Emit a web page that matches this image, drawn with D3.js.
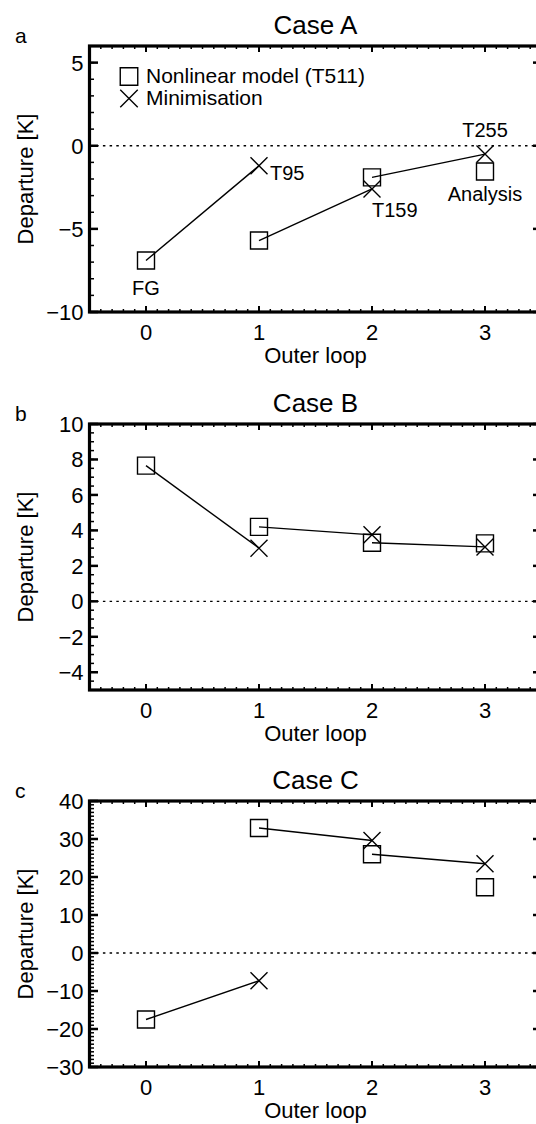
<!DOCTYPE html>
<html><head><meta charset="utf-8">
<script src="https://cdn.jsdelivr.net/npm/d3@7"></script>
<style>
html,body{margin:0;padding:0;background:#fff;}
svg{display:block;}
text{font-family:"Liberation Sans",Arial,Helvetica,sans-serif;fill:#000;}
</style></head>
<body>
<svg id="chart" width="536" height="1124"></svg>
<script>
// ---------- data ----------
const outerLoops = [0, 1, 2, 3];
const panelTitles = ["Case A", "Case B", "Case C"];
const panelLetters = ["a", "b", "c"];
const caseA_nonlinear   = [-6.9, -5.7, -1.9, -1.55];
const caseA_minimisation = [null, -1.2, -2.6, -0.5];
const caseB_nonlinear   = [7.65, 4.2, 3.3, 3.27];
const caseB_minimisation = [null, 3.0, 3.75, 3.07];
const caseC_nonlinear   = [-17.5, 32.9, 26.0, 17.3];
const caseC_minimisation = [null, -7.3, 29.6, 23.5];
const caseA_yTicks = [-10, -5, 0, 5];
const caseB_yTicks = [-4, -2, 0, 2, 4, 6, 8, 10];
const caseC_yTicks = [-30, -20, -10, 0, 10, 20, 30, 40];
const caseA_yDomain = [-10, 6];
const caseB_yDomain = [-5, 10];
const caseC_yDomain = [-30, 40];
const caseA_yMinorStep = 1;
const caseB_yMinorStep = 0.5;
const caseC_yMinorStep = 1;
const legendLabels = ["Nonlinear model (T511)", "Minimisation"];
const caseA_nlNotes = ["FG", null, null, "Analysis"];
const caseA_minNotes = [null, "T95", "T159", "T255"];

// ---------- layout ----------
const svg = d3.select("#chart");
const left = 89.5, right = 541.5, plotH = 266;
const tops = [46, 424, 801];
const fmt = v => (v < 0 ? "\u2212" + Math.abs(v) : String(v));

const panels = [
  {nl: caseA_nonlinear, mn: caseA_minimisation, ticks: caseA_yTicks, dom: caseA_yDomain, minor: caseA_yMinorStep},
  {nl: caseB_nonlinear, mn: caseB_minimisation, ticks: caseB_yTicks, dom: caseB_yDomain, minor: caseB_yMinorStep},
  {nl: caseC_nonlinear, mn: caseC_minimisation, ticks: caseC_yTicks, dom: caseC_yDomain, minor: caseC_yMinorStep}
];

const x = d3.scaleLinear().domain([-0.5, 3.5]).range([left, right]);

function squarePath(cx, cy, s) {
  const h = s / 2;
  return `M${cx - h},${cy - h}h${s}v${s}h${-s}Z`;
}
function crossPath(cx, cy, s) {
  const h = s / 2;
  return `M${cx - h},${cy - h}L${cx + h},${cy + h}M${cx - h},${cy + h}L${cx + h},${cy - h}`;
}

panels.forEach((p, k) => {
  const top = tops[k], bottom = top + plotH;
  const y = d3.scaleLinear().domain(p.dom).range([bottom, top]);
  const g = svg.append("g");

  // title & letter
  g.append("text").attr("x", (left + right) / 2).attr("y", top - 12)
    .attr("text-anchor", "middle").attr("font-size", 26).text(panelTitles[k]);
  g.append("text").attr("x", 15).attr("y", top - 3)
    .attr("font-size", 21).text(panelLetters[k]);

  // zero line
  g.append("line").attr("x1", left).attr("x2", right).attr("y1", y(0)).attr("y2", y(0))
    .attr("stroke", "#000").attr("stroke-width", 1.3).attr("stroke-dasharray", "2.5,4.2");

  // y minor ticks
  const yMinor = d3.range(p.dom[0], p.dom[1] + 1e-9, p.minor);
  yMinor.forEach(v => {
    g.append("line").attr("x1", left).attr("x2", left + 4.5).attr("y1", y(v)).attr("y2", y(v))
      .attr("stroke", "#000").attr("stroke-width", 1.5);
    g.append("line").attr("x1", right).attr("x2", right - 4.5).attr("y1", y(v)).attr("y2", y(v))
      .attr("stroke", "#000").attr("stroke-width", 1.5);
  });
  // y major ticks & labels
  p.ticks.forEach(v => {
    g.append("line").attr("x1", left).attr("x2", left + 8.5).attr("y1", y(v)).attr("y2", y(v))
      .attr("stroke", "#000").attr("stroke-width", 2.5);
    g.append("line").attr("x1", right).attr("x2", right - 8.5).attr("y1", y(v)).attr("y2", y(v))
      .attr("stroke", "#000").attr("stroke-width", 2.5);
    g.append("text").attr("x", left - 6).attr("y", y(v)).attr("dy", "0.36em")
      .attr("text-anchor", "end").attr("font-size", 22).text(fmt(v));
  });

  // x minor ticks
  d3.range(-0.5, 3.5 + 1e-9, 0.1).forEach(v => {
    g.append("line").attr("x1", x(v)).attr("x2", x(v)).attr("y1", bottom).attr("y2", bottom - 3)
      .attr("stroke", "#000").attr("stroke-width", 1.5);
    g.append("line").attr("x1", x(v)).attr("x2", x(v)).attr("y1", top).attr("y2", top + 3)
      .attr("stroke", "#000").attr("stroke-width", 1.5);
  });
  outerLoops.forEach(v => {
    g.append("line").attr("x1", x(v)).attr("x2", x(v)).attr("y1", bottom).attr("y2", bottom - 6)
      .attr("stroke", "#000").attr("stroke-width", 2);
    g.append("line").attr("x1", x(v)).attr("x2", x(v)).attr("y1", top).attr("y2", top + 6)
      .attr("stroke", "#000").attr("stroke-width", 2);
    g.append("text").attr("x", x(v)).attr("y", bottom + 28)
      .attr("text-anchor", "middle").attr("font-size", 22).text(v);
  });

  // frame
  g.append("rect").attr("x", left).attr("y", top).attr("width", right - left).attr("height", plotH)
    .attr("fill", "none").attr("stroke", "#000").attr("stroke-width", 3.2);

  // axis titles
  g.append("text").attr("x", (left + right) / 2).attr("y", bottom + 51)
    .attr("text-anchor", "middle").attr("font-size", 22).text("Outer loop");
  g.append("text").attr("transform", `translate(33,${(top + bottom) / 2}) rotate(-90)`)
    .attr("text-anchor", "middle").attr("font-size", 22).text("Departure [K]");

  // connecting lines: nonlinear at i -> minimisation at i+1
  outerLoops.forEach((v, i) => {
    if (i + 1 < outerLoops.length && p.nl[i] != null && p.mn[i + 1] != null) {
      g.append("line").attr("x1", x(v)).attr("y1", y(p.nl[i]))
        .attr("x2", x(outerLoops[i + 1])).attr("y2", y(p.mn[i + 1]))
        .attr("stroke", "#000").attr("stroke-width", 1.4);
    }
  });
  // markers
  outerLoops.forEach((v, i) => {
    if (p.nl[i] != null)
      g.append("path").attr("d", squarePath(x(v), y(p.nl[i]), 17))
        .attr("fill", "none").attr("stroke", "#000").attr("stroke-width", 1.4);
    if (p.mn[i] != null)
      g.append("path").attr("d", crossPath(x(v), y(p.mn[i]), 17))
        .attr("fill", "none").attr("stroke", "#000").attr("stroke-width", 1.4);
  });

  if (k === 0) {
    // legend
    g.append("path").attr("d", squarePath(129, 76.5, 17.5))
      .attr("fill", "none").attr("stroke", "#000").attr("stroke-width", 1.4);
    g.append("path").attr("d", crossPath(129, 98.5, 17.5))
      .attr("fill", "none").attr("stroke", "#000").attr("stroke-width", 1.4);
    g.append("text").attr("x", 146).attr("y", 83).attr("font-size", 21).text(legendLabels[0]);
    g.append("text").attr("x", 146).attr("y", 105).attr("font-size", 21).text(legendLabels[1]);

    // annotations
    const nlOff = {"FG": [0, 35, "middle"], "Analysis": [0, 29, "middle"]};
    const mnOff = {"T95": [11, 14, "start"], "T159": [0, 28, "start"], "T255": [0, -17, "middle"]};
    outerLoops.forEach((v, i) => {
      const a = caseA_nlNotes[i];
      if (a) g.append("text").attr("x", x(v) + nlOff[a][0]).attr("y", y(p.nl[i]) + nlOff[a][1])
        .attr("text-anchor", nlOff[a][2]).attr("font-size", 20).text(a);
      const b = caseA_minNotes[i];
      if (b) g.append("text").attr("x", x(v) + mnOff[b][0]).attr("y", y(p.mn[i]) + mnOff[b][1])
        .attr("text-anchor", mnOff[b][2]).attr("font-size", 20).text(b);
    });
  }
});
</script>
</body></html>
